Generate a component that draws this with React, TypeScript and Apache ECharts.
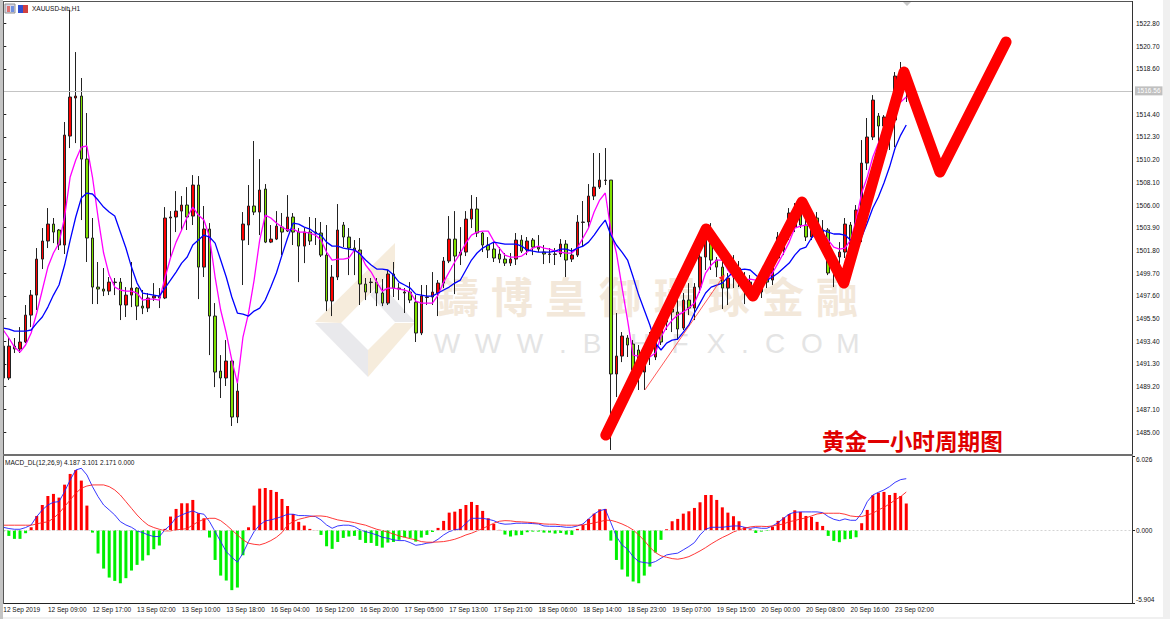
import React, { useEffect, useRef } from "react";
import * as echarts from "echarts";

const tickLabels = ["12 Sep 2019","12 Sep 09:00","12 Sep 17:00","13 Sep 02:00","13 Sep 10:00","13 Sep 18:00","16 Sep 04:00","16 Sep 12:00","16 Sep 20:00","17 Sep 05:00","17 Sep 13:00","17 Sep 21:00","18 Sep 06:00","18 Sep 14:00","18 Sep 23:00","19 Sep 07:00","19 Sep 15:00","20 Sep 00:00","20 Sep 08:00","20 Sep 16:00","23 Sep 02:00"];
const priceTicks = [1485.0,1487.1,1489.2,1491.3,1493.4,1495.5,1497.6,1499.7,1501.8,1503.9,1506.0,1508.1,1510.2,1512.3,1514.4,1518.6,1520.7,1522.8];
const macdTicks = [-5.904,0,6.026];
const lastPrice = 1516.56;

const opens = [1492.95,1490.00,1492.95,1492.68,1493.33,1495.82,1497.67,1501.00,1502.67,1504.24,1503.69,1502.30,1512.38,1515.90,1516.08,1510.25,1502.95,1498.41,1498.23,1498.04,1498.83,1498.87,1496.75,1497.67,1498.32,1496.65,1496.47,1497.40,1497.58,1497.40,1504.80,1504.89,1505.44,1506.00,1504.98,1507.85,1500.26,1503.78,1495.73,1490.64,1490.00,1491.57,1486.39,1502.76,1504.15,1505.91,1505.35,1507.48,1502.57,1502.85,1503.96,1503.59,1504.89,1503.50,1502.20,1503.50,1503.50,1503.41,1501.37,1497.12,1499.34,1504.15,1503.04,1502.02,1501.84,1498.69,1498.83,1498.87,1497.86,1496.93,1499.62,1498.32,1497.86,1497.95,1497.02,1494.16,1497.45,1497.49,1497.86,1498.78,1500.82,1502.85,1501.37,1501.65,1504.70,1505.63,1503.41,1502.30,1501.93,1501.47,1501.00,1500.63,1501.00,1502.76,1501.84,1502.76,1502.11,1501.65,1501.43,1501.43,1501.47,1502.39,1501.00,1501.37,1504.39,1504.43,1506.83,1507.66,1508.27,1508.31,1490.37,1492.03,1493.70,1493.14,1492.59,1490.55,1493.51,1491.94,1494.71,1495.17,1496.38,1496.10,1494.62,1497.21,1496.47,1498.41,1501.19,1502.48,1500.91,1500.26,1498.32,1499.34,1500.17,1499.25,1497.86,1497.67,1497.95,1499.34,1499.06,1501.10,1501.84,1503.22,1503.96,1505.54,1504.15,1503.04,1504.80,1503.69,1503.69,1501.19,1501.19,1501.65,1504.15,1503.50,1505.07,1509.88,1512.29,1514.23,1513.31,1513.31,1513.86,1517.93,1517.10];
const closes = [1490.00,1492.95,1492.68,1493.33,1495.82,1497.67,1501.00,1502.67,1504.24,1503.50,1502.30,1512.47,1515.99,1516.08,1510.25,1502.95,1498.41,1498.23,1498.04,1498.87,1498.87,1496.75,1497.67,1498.32,1496.65,1496.47,1497.40,1497.58,1497.40,1504.80,1504.89,1505.44,1506.00,1504.89,1507.85,1500.26,1503.78,1495.73,1490.55,1490.00,1491.57,1486.39,1488.79,1504.24,1505.91,1505.35,1507.39,1502.57,1502.85,1504.05,1503.50,1504.89,1503.50,1502.20,1503.50,1502.67,1503.41,1501.37,1497.12,1499.34,1503.69,1503.04,1502.02,1501.84,1498.69,1497.95,1498.87,1497.86,1496.93,1499.62,1498.32,1498.23,1497.95,1497.21,1494.16,1497.58,1497.49,1497.95,1498.78,1500.82,1502.85,1501.28,1501.65,1504.70,1505.63,1503.41,1502.30,1501.84,1501.10,1501.00,1500.63,1501.00,1502.76,1501.74,1502.67,1502.11,1501.93,1501.47,1501.47,1501.47,1502.39,1500.91,1501.37,1504.43,1504.43,1506.83,1507.66,1508.31,1508.31,1490.37,1492.03,1493.88,1493.05,1490.74,1490.55,1492.59,1492.31,1493.51,1493.33,1496.47,1496.10,1494.53,1497.21,1496.47,1498.41,1501.19,1502.76,1500.91,1500.26,1498.32,1499.25,1500.17,1499.71,1498.14,1498.87,1498.60,1498.87,1498.87,1500.63,1503.04,1503.41,1505.26,1505.54,1504.15,1503.04,1504.33,1503.50,1503.04,1499.71,1500.26,1501.65,1504.24,1502.11,1505.54,1509.88,1512.29,1515.71,1513.31,1514.14,1514.79,1517.93,1517.10,1516.56];
const lows = [1489.81,1489.81,1492.31,1492.31,1493.23,1494.71,1496.29,1500.08,1502.02,1502.48,1501.84,1501.47,1511.27,1511.73,1504.61,1500.73,1496.84,1496.84,1497.58,1497.67,1497.67,1495.36,1495.64,1496.56,1495.36,1495.91,1496.10,1497.12,1496.47,1497.30,1501.19,1503.50,1503.69,1503.69,1504.15,1497.30,1499.34,1492.12,1489.16,1488.15,1489.26,1485.56,1485.83,1498.60,1502.30,1505.07,1503.22,1502.48,1502.48,1502.76,1501.37,1503.50,1502.30,1498.87,1500.63,1502.30,1502.30,1501.19,1496.19,1495.73,1499.06,1502.11,1499.52,1499.52,1496.75,1497.21,1497.86,1496.65,1496.65,1496.75,1497.49,1497.21,1496.01,1496.93,1493.33,1493.97,1496.75,1496.75,1495.73,1498.32,1500.63,1497.76,1500.45,1501.28,1503.87,1503.04,1501.65,1501.10,1500.73,1500.63,1500.36,1500.36,1500.45,1501.56,1501.37,1501.37,1501.65,1500.54,1500.63,1500.45,1501.19,1499.34,1500.73,1501.19,1502.11,1503.87,1506.46,1507.48,1507.85,1483.34,1488.24,1491.47,1491.94,1490.46,1488.89,1488.89,1491.20,1491.66,1493.05,1494.44,1494.25,1493.51,1494.44,1495.82,1495.36,1497.86,1499.99,1499.99,1499.34,1496.38,1496.75,1498.32,1498.41,1496.84,1497.40,1497.40,1497.40,1498.32,1498.60,1500.91,1501.37,1502.76,1503.50,1503.87,1502.67,1502.76,1503.22,1501.84,1499.52,1498.41,1499.25,1501.10,1501.19,1501.19,1502.57,1509.24,1512.01,1511.27,1512.94,1511.09,1511.36,1515.71,1515.53];
const highs = [1493.51,1493.70,1493.70,1494.71,1496.75,1498.14,1502.02,1503.87,1505.72,1504.80,1503.78,1513.68,1524.04,1520.15,1517.75,1514.51,1504.80,1500.73,1500.17,1499.34,1499.25,1499.25,1498.41,1500.73,1498.41,1498.14,1497.86,1498.78,1498.32,1505.81,1505.44,1507.29,1506.83,1507.66,1508.77,1508.68,1505.91,1504.33,1496.93,1492.12,1493.51,1491.85,1489.53,1505.35,1507.85,1511.92,1510.25,1507.94,1504.15,1505.44,1505.26,1506.92,1505.26,1503.87,1503.87,1504.89,1504.80,1504.43,1504.15,1500.45,1506.09,1504.43,1503.87,1502.76,1502.95,1499.25,1499.25,1499.25,1499.15,1499.99,1500.73,1498.78,1498.32,1498.87,1497.67,1498.60,1498.60,1499.80,1499.06,1501.19,1504.98,1505.44,1503.96,1505.44,1506.92,1506.74,1503.50,1503.04,1502.57,1502.11,1501.56,1501.56,1503.41,1503.22,1503.04,1502.95,1503.22,1502.30,1502.02,1502.02,1502.85,1502.76,1502.02,1505.07,1506.37,1507.94,1510.81,1510.81,1511.27,1508.31,1496.01,1494.25,1493.97,1493.51,1493.05,1493.05,1494.25,1494.25,1495.36,1496.93,1497.40,1497.86,1497.86,1498.78,1498.78,1502.02,1503.96,1504.33,1501.19,1501.19,1499.71,1501.37,1500.82,1499.80,1499.52,1499.06,1499.34,1499.80,1501.19,1503.50,1503.87,1505.72,1506.18,1506.46,1505.07,1504.89,1505.35,1504.61,1503.87,1501.37,1502.57,1504.80,1504.43,1506.00,1512.01,1514.05,1516.17,1514.51,1514.32,1514.97,1518.30,1519.23,1518.49];

const maBlue = [1494.62,1494.53,1494.34,1494.34,1494.34,1494.44,1495.08,1495.64,1496.56,1497.67,1498.60,1500.45,1502.76,1504.89,1506.65,1507.11,1507.02,1506.46,1505.81,1505.35,1504.98,1503.50,1502.02,1500.26,1498.78,1497.86,1497.76,1497.67,1497.58,1498.32,1499.06,1499.80,1500.63,1501.19,1502.30,1502.76,1503.22,1503.04,1502.48,1500.91,1499.34,1497.49,1496.01,1495.91,1495.73,1496.19,1496.47,1497.21,1498.41,1499.71,1501.37,1502.95,1504.33,1504.24,1503.96,1503.78,1503.41,1503.22,1502.57,1502.20,1502.20,1502.02,1501.93,1501.84,1501.47,1500.91,1500.45,1500.08,1500.08,1499.99,1499.52,1498.87,1498.60,1498.32,1497.76,1497.67,1497.58,1497.58,1497.86,1498.14,1498.41,1498.78,1499.06,1499.99,1500.91,1501.56,1502.02,1502.30,1502.57,1502.48,1502.39,1502.39,1502.39,1502.20,1501.84,1501.74,1501.65,1501.65,1501.65,1501.74,1501.93,1501.93,1501.74,1502.02,1502.20,1502.57,1503.22,1503.96,1504.61,1503.22,1502.30,1501.65,1500.91,1499.34,1497.67,1496.29,1494.90,1493.23,1492.59,1493.23,1493.51,1493.60,1494.25,1494.90,1496.01,1496.93,1497.86,1498.41,1498.60,1498.78,1499.34,1499.80,1499.99,1500.08,1499.99,1499.52,1499.06,1499.06,1499.34,1499.71,1500.17,1500.63,1501.37,1501.93,1502.11,1502.95,1503.50,1503.69,1503.50,1503.32,1503.32,1503.22,1502.76,1502.67,1503.04,1504.33,1505.72,1506.74,1508.03,1509.51,1511.27,1512.47,1513.40];
const maMagenta = [1494.44,1493.70,1492.86,1492.40,1493.05,1494.16,1496.01,1498.14,1500.26,1501.56,1502.48,1504.89,1508.59,1510.16,1511.36,1511.46,1508.59,1504.89,1501.56,1499.52,1498.41,1498.14,1498.04,1498.04,1497.86,1497.21,1497.30,1497.30,1497.21,1499.25,1501.10,1502.57,1503.69,1504.89,1505.81,1505.07,1504.61,1503.04,1499.34,1496.29,1494.16,1491.66,1489.53,1493.79,1496.01,1499.06,1502.76,1505.07,1504.80,1504.33,1503.96,1503.69,1503.78,1503.50,1503.50,1503.41,1503.22,1502.76,1501.65,1500.91,1501.00,1501.00,1501.10,1501.84,1501.56,1500.45,1499.80,1498.87,1498.04,1498.32,1498.32,1498.23,1498.14,1497.95,1497.12,1496.93,1496.93,1496.93,1497.67,1498.87,1499.80,1500.73,1501.56,1502.48,1503.22,1503.50,1503.59,1503.59,1502.67,1502.02,1501.37,1501.19,1501.19,1501.28,1501.65,1502.02,1502.20,1502.02,1501.93,1501.74,1501.65,1501.56,1501.56,1502.02,1502.95,1503.87,1505.35,1506.46,1507.11,1503.69,1501.56,1498.41,1495.36,1492.12,1492.03,1492.12,1491.94,1492.31,1493.79,1494.71,1495.36,1495.82,1496.10,1496.47,1496.93,1498.14,1499.71,1500.45,1500.91,1500.91,1499.99,1499.34,1499.25,1499.06,1499.15,1499.06,1498.87,1499.06,1499.71,1500.63,1501.56,1502.57,1503.87,1504.05,1504.15,1504.05,1503.96,1503.41,1502.76,1502.11,1501.93,1502.02,1502.76,1504.61,1507.11,1508.59,1510.44,1511.73,1513.12,1514.51,1515.43,1515.53,1515.99];

const macdHist = [-0.08,-0.46,-0.70,-0.70,-0.24,0.24,1.16,2.05,2.78,2.95,2.65,3.70,4.57,4.89,4.03,2.00,-0.19,-1.89,-3.11,-3.84,-4.11,-4.30,-3.89,-3.27,-2.81,-2.46,-2.03,-1.54,-1.24,0.11,1.11,1.73,2.19,2.19,2.46,1.38,0.97,-0.59,-2.41,-3.68,-4.08,-4.86,-4.65,-2.03,0.24,2.00,3.38,3.43,3.27,3.11,2.54,1.97,1.32,0.68,0.38,0.11,0.01,-0.38,-1.30,-1.51,-0.95,-0.62,-0.51,-0.46,-0.78,-1.03,-1.03,-1.27,-1.41,-1.00,-0.95,-0.78,-0.57,-0.62,-0.92,-0.59,-0.38,-0.14,0.19,0.76,1.43,1.51,1.73,2.05,2.30,2.05,1.57,0.97,0.51,0.03,-0.35,-0.51,-0.41,-0.38,-0.16,-0.11,-0.11,-0.19,-0.19,-0.27,-0.22,-0.35,-0.38,0.11,0.43,0.92,1.35,1.70,1.73,-0.84,-2.41,-3.19,-3.76,-4.16,-4.30,-3.68,-2.95,-1.81,-0.78,0.08,0.73,0.92,1.35,1.54,1.81,2.27,2.86,2.86,2.46,1.86,1.43,1.14,0.73,0.24,0.08,-0.22,-0.11,-0.05,0.30,0.76,1.05,1.32,1.62,1.49,1.16,1.08,0.68,0.35,-0.46,-0.86,-0.97,-0.73,-0.70,-0.57,0.57,1.65,2.84,3.05,3.11,2.86,3.03,2.78,2.171];
const macdMain = [0.24,0.14,0.08,0.08,0.22,0.43,1.11,1.65,2.05,2.27,2.32,3.14,4.08,4.89,5.03,4.49,3.54,2.73,2.05,1.65,1.24,0.70,0.43,0.24,-0.05,-0.19,-0.38,-0.51,-0.51,0.03,0.43,1.03,1.24,1.43,1.57,1.38,1.30,0.70,-0.11,-0.92,-1.73,-2.19,-2.59,-1.86,-0.92,-0.11,0.43,0.76,0.84,0.97,1.11,1.30,1.30,1.19,1.19,1.16,1.11,0.84,0.43,0.16,0.35,0.41,0.41,0.30,0.03,-0.11,-0.24,-0.38,-0.57,-0.65,-0.78,-0.84,-0.84,-1.00,-1.22,-1.16,-1.05,-1.00,-0.73,-0.38,-0.11,0.03,0.11,0.57,0.97,0.97,0.97,0.89,0.78,0.57,0.49,0.51,0.57,0.57,0.57,0.54,0.51,0.35,0.32,0.32,0.30,0.24,0.24,0.35,0.51,0.92,1.32,1.59,1.70,0.62,-0.51,-1.19,-1.54,-2.14,-2.54,-2.62,-2.68,-2.54,-2.27,-2.00,-1.92,-1.86,-1.59,-1.32,-1.00,-0.38,0.08,0.24,0.24,0.24,0.30,0.35,0.35,0.24,0.16,0.22,0.16,0.16,0.35,0.62,0.97,1.32,1.46,1.49,1.49,1.49,1.49,1.43,1.11,0.89,0.78,0.92,0.81,0.81,1.38,2.32,2.86,3.08,3.27,3.54,3.89,4.11,4.187];
const macdSignal = [0.41,0.41,0.41,0.41,0.41,0.41,0.51,0.62,0.68,0.97,1.38,1.92,2.46,3.00,3.41,3.59,3.68,3.68,3.68,3.54,3.27,2.86,2.32,1.78,1.24,0.78,0.41,0.22,0.08,-0.05,-0.05,0.03,0.08,0.14,0.43,0.70,0.89,0.97,0.97,0.78,0.43,0.03,-0.38,-0.78,-1.05,-1.14,-1.19,-1.05,-0.84,-0.57,-0.19,0.43,0.70,0.89,1.00,1.11,1.16,1.16,1.11,0.97,0.84,0.76,0.70,0.62,0.51,0.41,0.24,0.08,-0.03,-0.16,-0.30,-0.46,-0.57,-0.68,-0.78,-0.92,-0.97,-0.97,-0.95,-0.92,-0.84,-0.73,-0.57,-0.38,-0.24,-0.05,0.14,0.35,0.57,0.73,0.78,0.76,0.70,0.68,0.65,0.62,0.57,0.51,0.49,0.49,0.43,0.41,0.41,0.41,0.43,0.51,0.59,0.70,0.81,0.81,0.68,0.51,0.30,0.03,-0.38,-0.84,-1.38,-1.81,-2.08,-2.19,-2.30,-2.35,-2.27,-2.14,-1.92,-1.68,-1.41,-1.11,-0.84,-0.59,-0.38,-0.14,0.03,0.16,0.27,0.32,0.32,0.30,0.35,0.43,0.51,0.70,0.78,0.92,1.00,1.16,1.32,1.38,1.38,1.38,1.38,1.30,1.16,1.11,1.11,1.24,1.38,1.65,1.86,2.14,2.46,2.73,3.101];

// hand-drawn annotations in the picture: [bar position, price]
const zigzagBars = [108.1,126.1,134.5,143.3,150.8,161.6,168.05,179.9];
const zigzagPrices = [1484.72,1503.78,1497.58,1506.27,1498.78,1518.30,1509.05,1521.08];
const trendBars = [115.1,129.1];
const trendPrices = [1488.89,1499.34];

const BAR_SLOTS = 203;
const categories = Array.from({ length: BAR_SLOTS }, (_, i) => String(i));
const candleData = opens.map((o, i) => [o, closes[i], lows[i], highs[i]]);

const waterChars = ["鑄","博","皇","御","環","球","金","融"];
const waterCharX = [458,512,566,620,675,729,783,837];
const urlChars = ["W","W","W",".","B","H","F","X",".","C","O","M"];
const urlCharX = [447,488,530,563,592,640,680,716,745,775,812,848];

const SMALL = "6.5px 'Liberation Sans', Arial, sans-serif";

export default function App() {
  const ref = useRef<HTMLDivElement>(null);
  useEffect(() => {
    const chart = echarts.init(ref.current!, undefined, { renderer: "svg" });
    const tan = "#f6ecdc";
    const grey = "#e9e9ec";
    const tickIdx = (i: number) => i % 8 === 0 && i / 8 < tickLabels.length;
    const graphics: any[] = [
      { type: "rect", z: -5, shape: { x: 1163, y: 0, width: 7, height: 619 }, style: { fill: "#f0f0f0" } },
      { type: "rect", z: -5, shape: { x: 0, y: 617, width: 1170, height: 2 }, style: { fill: "#f0f0f0" } },
      { type: "polygon", z: -4, shape: { points: [[315,322],[395,243],[395,268],[341,323]] }, style: { fill: tan } },
      { type: "polygon", z: -4, shape: { points: [[315,323],[341,323],[368,350],[368,377]] }, style: { fill: grey } },
      { type: "polygon", z: -4, shape: { points: [[368,350],[395,323],[415,323],[368,377]] }, style: { fill: tan } },
      { type: "polygon", z: -4, shape: { points: [[370,295],[381,284],[415,322],[395,322]] }, style: { fill: grey } },
      ...waterChars.map((t, i) => ({
        type: "text", z: -3, x: waterCharX[i], y: 294,
        style: { text: t, fill: "#f3e8da", font: "700 42px 'Noto Sans CJK TC'", textAlign: "center", textVerticalAlign: "middle" },
      })),
      ...urlChars.map((t, i) => ({
        type: "text", z: -3, x: urlCharX[i], y: 343,
        style: { text: t, fill: "#e4e4e4", font: "28px 'Liberation Sans'", textAlign: "center", textVerticalAlign: "middle" },
      })),
      { type: "rect", z: 50, shape: { x: 0, y: 0, width: 3, height: 619 }, style: { fill: "#c4c4c4" } },
      { type: "rect", z: 50, shape: { x: 3, y: 1, width: 1, height: 603 }, style: { fill: "#555555" } },
      { type: "rect", z: 50, shape: { x: 3, y: 1, width: 1130, height: 1 }, style: { fill: "#555555" } },
      { type: "rect", z: 50, shape: { x: 1132, y: 1, width: 1, height: 603 }, style: { fill: "#333333" } },
      { type: "rect", z: 50, shape: { x: 3, y: 454, width: 1130, height: 2 }, style: { fill: "#707070" } },
      { type: "polygon", z: 50, shape: { points: [[903,2],[911,2],[907,6]] }, style: { fill: "#c8c8c8" } },
      { type: "rect", z: 50, shape: { x: 5, y: 4, width: 10, height: 9 }, style: { fill: "#d8d8e8", stroke: "#909090", lineWidth: 1 } },
      { type: "rect", z: 51, shape: { x: 7, y: 6, width: 3, height: 6 }, style: { fill: "#e07070" } },
      { type: "rect", z: 51, shape: { x: 11, y: 6, width: 3, height: 6 }, style: { fill: "#7090e0" } },
      { type: "rect", z: 50, shape: { x: 18, y: 5, width: 5, height: 8 }, style: { fill: "#3050d0" } },
      { type: "rect", z: 50, shape: { x: 23, y: 5, width: 5, height: 8 }, style: { fill: "#d04040" } },
      { type: "text", z: 50, x: 32, y: 8, style: { text: "XAUUSD-bib,H1", fill: "#111111", font: SMALL, textVerticalAlign: "middle" } },
      { type: "text", z: 50, x: 5, y: 462, style: { text: "MACD_DL(12,26,9) 4.187 3.101 2.171 0.000", fill: "#111111", font: SMALL, textVerticalAlign: "middle" } },
      { type: "text", z: 50, x: 822, y: 440, style: { text: "黄金一小时周期图", fill: "#e00000", font: "700 22.6px 'Noto Sans CJK SC'", textVerticalAlign: "middle" } },
    ];
    const axisText = { color: "#111111", fontFamily: "Liberation Sans", fontSize: 6.5 };
    chart.setOption({
      animation: false,
      backgroundColor: "#ffffff",
      graphic: { elements: graphics },
      grid: [
        { left: 0.5, width: 1131.5, top: 2, height: 452 },
        { left: 0.5, width: 1131.5, top: 456, height: 147 },
      ],
      xAxis: [
        { type: "category", gridIndex: 0, data: categories, show: false },
        {
          type: "category", gridIndex: 1, data: categories, position: "bottom",
          axisLine: { onZero: false, lineStyle: { color: "#222222", width: 1 } },
          axisTick: { alignWithLabel: true, length: 3, interval: (i: number) => tickIdx(i), lineStyle: { color: "#222222" } },
          axisLabel: {
            ...axisText, align: "left", margin: 3, hideOverlap: false,
            interval: (i: number) => tickIdx(i),
            formatter: (_v: string, i: number) => tickLabels[i / 8] ?? "",
          },
        },
        { type: "value", gridIndex: 0, min: -0.5, max: BAR_SLOTS - 0.5, show: false },
      ],
      yAxis: [
        {
          type: "value", gridIndex: 0, position: "right", min: 1482.97, max: 1524.78, scale: true,
          splitLine: { show: false },
          axisLine: { show: true, lineStyle: { color: "#222222", width: 1 } },
          axisTick: { show: true, length: 3, customValues: priceTicks, lineStyle: { color: "#222222" } },
          axisLabel: { ...axisText, margin: 4, customValues: priceTicks, formatter: (v: number) => v.toFixed(2) },
        },
        {
          type: "value", gridIndex: 1, position: "right", min: -5.904, max: 6.026,
          splitLine: { show: false },
          axisLine: { show: true, lineStyle: { color: "#222222", width: 1 } },
          axisTick: { show: true, length: 3, customValues: macdTicks, lineStyle: { color: "#222222" } },
          axisLabel: {
            ...axisText, margin: 4, customValues: macdTicks,
            verticalAlignMaxLabel: "top", verticalAlignMinLabel: "bottom",
            formatter: (v: number) => v.toFixed(3),
          },
        },
      ],
      series: [
        {
          type: "candlestick", name: "XAUUSD", xAxisIndex: 0, yAxisIndex: 0, data: candleData, barWidth: 3, z: 2,
          itemStyle: { color: "#ff0000", color0: "#7fe000", borderColor: "#222222", borderColor0: "#222222", borderWidth: 1 },
          markLine: {
            silent: true, symbol: "none", animation: false,
            lineStyle: { color: "#c4c4c4", width: 1, type: "solid" },
            data: [{ yAxis: lastPrice }],
            label: {
              position: "end", distance: 3, formatter: () => lastPrice.toFixed(2), color: "#ffffff",
              fontFamily: "Liberation Sans", fontSize: 6.5, backgroundColor: "#c0c0c0", padding: [1, 2],
            },
          },
        },
        { type: "line", name: "MA fast", xAxisIndex: 0, yAxisIndex: 0, data: maMagenta, symbol: "none", z: 3, lineStyle: { color: "#ff00ff", width: 1.3 } },
        { type: "line", name: "MA slow", xAxisIndex: 0, yAxisIndex: 0, data: maBlue, symbol: "none", z: 3, lineStyle: { color: "#0000ff", width: 1.3 } },
        {
          type: "line", name: "trend", xAxisIndex: 2, yAxisIndex: 0, z: 4,
          data: trendBars.map((b, i) => i === trendBars.length - 1
            ? { value: [b, trendPrices[i]], symbol: "triangle", symbolSize: 6, symbolRotate: -35, itemStyle: { color: "#ff2020" } }
            : { value: [b, trendPrices[i]], symbol: "none" }),
          showSymbol: true, lineStyle: { color: "#ff3030", width: 0.8 },
        },
        {
          type: "line", name: "zigzag", xAxisIndex: 2, yAxisIndex: 0, z: 5, symbol: "none",
          data: zigzagBars.map((b, i) => [b, zigzagPrices[i]]),
          lineStyle: { color: "#ff0000", width: 11, cap: "round", join: "round" },
        },
        {
          type: "bar", name: "MACD hist", xAxisIndex: 1, yAxisIndex: 1, data: macdHist, barWidth: 3, z: 2,
          itemStyle: { color: (p: any) => (p.value >= 0 ? "#ff0000" : "#00f000") },
          markLine: {
            silent: true, symbol: "none", animation: false, label: { show: false },
            lineStyle: { color: "#d4d4d4", width: 1, type: [2, 2] },
            data: [{ yAxis: 0 }],
          },
        },
        { type: "line", name: "MACD main", xAxisIndex: 1, yAxisIndex: 1, data: macdMain, symbol: "none", z: 3, lineStyle: { color: "#2020ff", width: 0.9 } },
        { type: "line", name: "MACD signal", xAxisIndex: 1, yAxisIndex: 1, data: macdSignal, symbol: "none", z: 3, lineStyle: { color: "#ff2020", width: 0.9 } },
      ],
    });
    return () => chart.dispose();
  }, []);
  return <div ref={ref} style={{ position: "absolute", left: 0, top: 0, width: 1170, height: 619 }} />;
}
